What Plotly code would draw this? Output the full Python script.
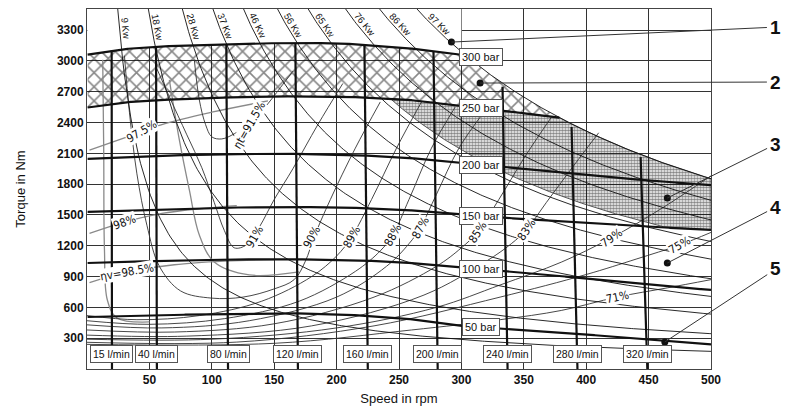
import numpy as np
import plotly.graph_objects as go

# ---------------- data ----------------
speed_ticks = [50, 100, 150, 200, 250, 300, 350, 400, 450, 500]
torque_ticks = [300, 600, 900, 1200, 1500, 1800, 2100, 2400, 2700, 3000, 3300]

# pressure lines (torque in Nm vs speed in rpm)
p300_rpm = [0, 25, 50, 100, 150, 200, 250, 300, 330]
p300_T = [3060, 3110, 3135, 3160, 3172, 3172, 3135, 3060, 3010]
p250_rpm = [0, 25, 50, 100, 150, 200, 250, 300, 340, 380, 420]
p250_T = [2545, 2590, 2615, 2640, 2655, 2655, 2630, 2565, 2505, 2445, 2390]
p_rpm = [0, 50, 100, 150, 200, 250, 300, 350, 400, 450, 500]
p200_T = [2045, 2075, 2090, 2097, 2090, 2065, 2005, 1945, 1885, 1835, 1790]
p150_T = [1530, 1552, 1568, 1578, 1575, 1555, 1500, 1460, 1420, 1385, 1355]
p100_T = [1032, 1050, 1062, 1070, 1065, 1042, 985, 940, 880, 820, 770]
p50_T = [506, 520, 535, 545, 535, 500, 420, 380, 335, 290, 240]
pressure_names = ["300 bar", "250 bar", "200 bar", "150 bar", "100 bar", "50 bar"]
pressure_label_rpm = 316

# oil flow lines
flow_names = ["15 l/min", "40 l/min", "80 l/min", "120 l/min", "160 l/min",
              "200 l/min", "240 l/min", "280 l/min", "320 l/min"]
flow_rpm = [20, 56, 113, 169, 225, 281, 337, 393, 449]
flow_label_T = 146

# constant power lines
power_kw = [9, 18, 28, 37, 46, 56, 65, 76, 86, 97]
power_label_T = 3315
cont_power_kw = 67

# total efficiency contours (rpm list, torque list)
eta_t = {
    "ηt=91.5%": ([86, 90, 95, 100, 108, 118, 130, 142, 155, 165],
                 [3010, 2620, 2380, 2260, 2240, 2290, 2390, 2540, 2740, 2900]),
    "91%": ([55, 66, 80, 92, 102, 110, 118, 128, 138, 150, 165, 185, 205],
            [2950, 2650, 2280, 1960, 1620, 1350, 1180, 1210, 1380, 1650, 1950, 2380, 2780]),
    "90%": ([30, 34, 40, 48, 58, 75, 100, 125, 150, 166, 175, 182, 195, 215, 235],
            [3050, 2500, 1900, 1400, 1000, 760, 690, 700, 780, 870, 1050, 1286, 1650, 2150, 2600]),
    "89%": ([0, 40, 90, 140, 180, 200, 212, 228, 248, 268],
            [520, 480, 520, 660, 900, 1100, 1286, 1650, 2150, 2600]),
    "88%": ([0, 50, 110, 170, 215, 235, 245, 258, 276, 295],
            [470, 435, 490, 660, 950, 1150, 1305, 1650, 2150, 2550]),
    "87%": ([0, 60, 130, 200, 240, 258, 267, 280, 298, 318],
            [430, 400, 470, 700, 1000, 1220, 1373, 1700, 2150, 2500]),
    "85%": ([0, 70, 150, 230, 280, 300, 313, 330, 350, 372],
            [380, 360, 440, 700, 1000, 1180, 1334, 1650, 2050, 2450]),
    "83%": ([0, 80, 180, 270, 320, 340, 352, 368, 390, 410],
            [330, 320, 420, 720, 1050, 1220, 1354, 1620, 1980, 2300]),
    "79%": ([0, 100, 200, 280, 331, 380, 420, 460, 500],
            [290, 290, 400, 600, 818, 1040, 1276, 1560, 1880]),
    "75%": ([0, 120, 230, 331, 400, 440, 475, 500],
            [260, 262, 420, 700, 920, 1070, 1208, 1330]),
    "71%": ([0, 150, 260, 331, 380, 425, 465, 500],
            [240, 250, 380, 480, 570, 701, 790, 870]),
}
eta_t_labels = {  # label position (rpm, Nm) and angle
    "ηt=91.5%": (130, 2377, -60), "91%": (134, 1286, -60), "90%": (180, 1286, -62),
    "89%": (212, 1286, -62), "88%": (245, 1305, -62), "87%": (267, 1373, -62),
    "85%": (313, 1334, -57), "83%": (352, 1354, -57), "79%": (420, 1276, -35),
    "75%": (475, 1208, -30), "71%": (425, 701, -12),
}

# volumetric efficiency lines
eta_v = {
    "97.5%": ([2, 30, 60, 100, 145], [2130, 2250, 2380, 2500, 2610]),
    "98%": ([2, 30, 60, 90, 120], [1320, 1430, 1515, 1560, 1590]),
    "ηv=98.5%": ([2, 32, 70, 110, 150], [840, 945, 1015, 1050, 1065]),
}
eta_v_labels = {"97.5%": (44, 2320, -30), "98%": (30, 1432, -20), "ηv=98.5%": (32, 945, -10)}
eta_v_walls = [
    ([12.6, 13.4, 14, 16.3, 24, 50], [3010, 2133, 1159, 672, 497, 458]),
    ([66, 74, 82, 90, 102, 130, 170], [2815, 2230, 1743, 1305, 1042, 916, 945]),
]

# callouts: number, dot position (rpm, Nm), text position (rpm, Nm)
callout_names = ["1", "2", "3", "4", "5"]
callout_dot_rpm = [292, 315, 465, 465, 463]
callout_dot_T = [3183, 2784, 1665, 1032, 263]
callout_txt_rpm = [552, 552, 552, 552, 552]
callout_txt_T = [3329, 2794, 2190, 1577, 974]

# ---------------- geometry helpers ----------------
X_RANGE = [0, 500]
Y_RANGE = [0, 3505]
W_PX, H_PX = 624, 360
px_per_rpm = W_PX / (X_RANGE[1] - X_RANGE[0])
px_per_T = H_PX / (Y_RANGE[1] - Y_RANGE[0])

n = np.linspace(0.5, 500, 1000)


def kw_curve(kw, rpm):
    return kw * 9549.0 / rpm


env = np.minimum(np.interp(n, p300_rpm, p300_T), kw_curve(power_kw[-1], n))

FONT = "Liberation Sans, Arial, sans-serif"
NARROW = "Liberation Sans Narrow, DejaVu Sans Condensed, Liberation Sans, sans-serif"
INK = "#111111"

fig = go.Figure()

# white mask above envelope (left part, no grid there)
mm = n <= 300
fig.add_trace(go.Scatter(x=list(n[mm]) + [300, 0], y=list(env[mm]) + [3600, 3600],
                         fill="toself", fillcolor="white", line=dict(width=0),
                         mode="lines", hoverinfo="skip", showlegend=False))

# cross-hatched region between 250 bar and envelope
low = np.interp(n, p250_rpm, p250_T)
m = low < env
fig.add_trace(go.Scatter(x=list(n[m]) + list(n[m][::-1]), y=list(env[m]) + list(low[m][::-1]),
                         fill="toself", fillcolor="rgba(0,0,0,0)", mode="lines",
                         line=dict(width=0),
                         fillpattern=dict(shape="x", size=10, solidity=0.3, fgcolor="#111",
                                          bgcolor="rgba(0,0,0,0)"),
                         hoverinfo="skip", showlegend=False))

# dotted region
up2 = np.minimum(low, env)
lo2 = np.maximum(kw_curve(cont_power_kw, n), np.interp(n, p_rpm, p150_T))
m2 = (lo2 < up2) & (n > 200)
fig.add_trace(go.Scatter(x=list(n[m2]) + list(n[m2][::-1]), y=list(up2[m2]) + list(lo2[m2][::-1]),
                         fill="toself", fillcolor="rgba(0,0,0,0)", mode="lines",
                         line=dict(width=0.8, color="#333"),
                         fillpattern=dict(shape=".", size=3, solidity=0.65, fgcolor="#111",
                                          bgcolor="rgba(0,0,0,0)"),
                         hoverinfo="skip", showlegend=False))


def line(x, y, color=INK, width=1.0, shape="spline"):
    fig.add_trace(go.Scatter(x=x, y=y, mode="lines", line=dict(color=color, width=width, shape=shape),
                             hoverinfo="skip", showlegend=False))


# volumetric efficiency (grey)
for name, (xs, ys) in eta_v.items():
    line(xs, ys, color="#8a8a8a", width=1.3)
for xs, ys in eta_v_walls:
    line(xs, ys, color="#8a8a8a", width=1.3)

# total efficiency contours
for name, (xs, ys) in eta_t.items():
    line(xs, ys, color="#333", width=0.9)

# constant power hyperbolas
for kw in power_kw:
    nn = np.linspace(kw * 9549.0 / 3600, 500, 300)
    line(list(nn), list(kw_curve(kw, nn)), color=INK, width=0.9, shape="linear")

# pressure lines (thick), clipped to envelope
pressure_series = [(p300_rpm, p300_T), (p250_rpm, p250_T), (p_rpm, p200_T),
                   (p_rpm, p150_T), (p_rpm, p100_T), (p_rpm, p50_T)]
for xs, ys in pressure_series:
    tt = np.interp(n, xs, ys)
    k = (tt <= env + 1) & (n <= xs[-1])
    line(list(n[k]), list(tt[k]), color=INK, width=2.2, shape="linear")

# flow lines (thick, nearly vertical)
for fr in flow_rpm:
    top = float(np.interp(fr, n, env))
    line([fr, fr * 0.988], [0, top], color=INK, width=2.2, shape="linear")

# callout dots
fig.add_trace(go.Scatter(x=callout_dot_rpm, y=callout_dot_T, mode="markers",
                         marker=dict(size=7, color=INK), hoverinfo="skip", showlegend=False))

ann = []
# pressure labels on the lines
for name, (xs, ys) in zip(pressure_names, pressure_series):
    ty = float(np.interp(pressure_label_rpm, xs, ys))
    ann.append(dict(x=pressure_label_rpm, y=ty, text=name, showarrow=False,
                    font=dict(family=FONT, size=11, color=INK), bgcolor="white",
                    bordercolor="#555", borderwidth=1, borderpad=2))
# flow labels
for name, fr in zip(flow_names, flow_rpm):
    ann.append(dict(x=fr, y=flow_label_T, text=name, showarrow=False,
                    font=dict(family=FONT, size=10.5, color=INK), bgcolor="white",
                    bordercolor="#555", borderwidth=1, borderpad=2))
# power labels
for kw in power_kw:
    nx = kw * 9549.0 / power_label_T
    a = np.degrees(np.arctan((power_label_T / nx) * px_per_T / px_per_rpm))
    ar = np.radians(a)
    ann.append(dict(x=nx, y=power_label_T, text=f"{kw} Kw", showarrow=False, textangle=float(a),
                    xshift=float(6 * np.sin(ar)), yshift=float(6 * np.cos(ar)),
                    font=dict(family=FONT, size=9.5, color=INK)))
# efficiency labels
for name, (lx, ly, ang) in list(eta_t_labels.items()) + list(eta_v_labels.items()):
    ann.append(dict(x=lx, y=ly, text=name, showarrow=False, textangle=ang,
                    font=dict(family=NARROW, size=11.5, color=INK), bgcolor="white", borderpad=0))
# callouts
for name, dx, dy, tx, ty in zip(callout_names, callout_dot_rpm, callout_dot_T,
                                 callout_txt_rpm, callout_txt_T):
    ann.append(dict(x=dx, y=dy, ax=tx, ay=ty, axref="x", ayref="y", text=name,
                    showarrow=True, arrowhead=0, arrowwidth=1, arrowcolor="#333",
                    standoff=0, startstandoff=2,
                    font=dict(family=FONT, size=19, color=INK, weight="bold")))

# the page body has an 8 px margin, so the figure is 8 px smaller and margins shifted
fig.update_layout(
    width=792, height=401,
    margin=dict(l=79, r=89, t=1, b=40),
    paper_bgcolor="white", plot_bgcolor="white",
    showlegend=False,
    annotations=ann,
    xaxis=dict(range=X_RANGE, tickvals=speed_ticks, showgrid=True, gridcolor="#333", gridwidth=1,
               showline=True, linecolor="#444", linewidth=1, mirror=True, zeroline=False,
               ticks="", tickfont=dict(family=FONT, size=12, color="#111", weight="bold"),
               title=dict(text="Speed in rpm", standoff=7, font=dict(family=FONT, size=13, color="#111"))),
    yaxis=dict(range=Y_RANGE, tickvals=torque_ticks, showgrid=True, gridcolor="#333", gridwidth=1,
               showline=True, linecolor="#444", linewidth=1, mirror=True, zeroline=False,
               ticks="", tickfont=dict(family=FONT, size=12, color="#111", weight="bold"),
               title=dict(text="Torque in Nm", standoff=28, font=dict(family=FONT, size=13, color="#111"))),
)

fig.write_html("out.html")
